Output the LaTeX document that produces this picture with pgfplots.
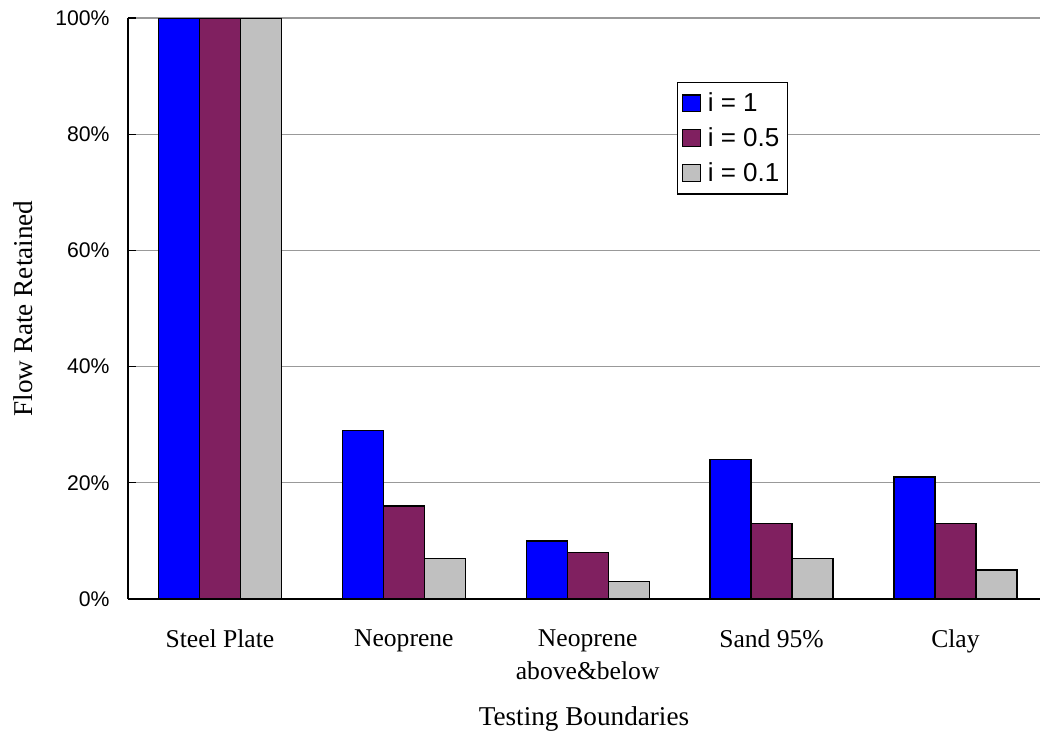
\documentclass[border=0pt]{standalone}
\usepackage{fontspec}
\setmainfont{Liberation Serif}
\newfontfamily\arial{Liberation Sans}
\usepackage{pgfplots}
\pgfplotsset{compat=1.18}

\definecolor{barblue}{RGB}{0,0,255}
\definecolor{barplum}{RGB}{128,32,96}
\definecolor{bargray}{RGB}{192,192,192}

% square legend swatches instead of the default ybar glyph
\pgfplotsset{legsq/.style={/pgfplots/legend image code/.code={%
  \draw[##1,draw=black,line width=0.6pt] (0pt,-4.2pt) rectangle (9pt,4.2pt);}}}

\begin{document}
\begin{tikzpicture}
\begin{axis}[
  name=ax,
  scale only axis,
  width=456pt, height=290.5pt,
  ybar=0pt, bar width=20.5pt,
  xmin=-0.5, xmax=4.46,
  ymin=0, ymax=100,
  axis lines=left,
  axis line style={-, black, line width=0.6pt},
  xtick={0,1,2,3,4},
  xticklabels={Steel Plate, Neoprene, Neoprene\\above\&below, Sand 95\%, Clay},
  xtick style={draw=none},
  xticklabel style={font=\fontsize{12.8}{16.8}\selectfont, align=center, anchor=north, inner sep=0pt, yshift=-15pt},
  ytick={0,20,40,60,80,100},
  yticklabels={0\%,20\%,40\%,60\%,80\%,100\%},
  yticklabel style={font=\arial\fontsize{10.6}{12}\selectfont, anchor=east, inner sep=0pt, xshift=-9pt},
  tick align=inside,
  major tick length=4pt,
  ytick style={black, line width=0.6pt},
  ymajorgrids,
  grid style={gray!80, line width=0.6pt},
  xlabel={Testing Boundaries},
  ylabel={Flow Rate Retained},
  label style={font=\fontsize{13.6}{16}\selectfont},
  xlabel style={at={(axis description cs:0.5,-0.217)}, anchor=base},
  ylabel style={at={(axis description cs:-0.115,0.5)}, anchor=center},
  legend style={at={(rel axis cs:0.602,0.89)}, anchor=north west,
    draw=black, line width=0.6pt, fill=white,
    font=\arial\fontsize{13}{15}\selectfont,
    inner xsep=2pt, inner ysep=3pt, row sep=2.5pt,
    /tikz/every odd column/.append style={column sep=1.5pt}},
  legend cell align=left,
]
\addplot[fill=barblue, draw=black, line width=0.6pt, legsq] coordinates {(0,100) (1,29) (2,10) (3,24) (4,21)};
\addplot[fill=barplum, draw=black, line width=0.6pt, legsq] coordinates {(0,100) (1,16) (2,8) (3,13) (4,13)};
\addplot[fill=bargray, draw=black, line width=0.6pt, legsq] coordinates {(0,100) (1,7) (2,3) (3,7) (4,5)};
\legend{i = 1, i = 0.5, i = 0.1}
\end{axis}
\pgfresetboundingbox
\path[use as bounding box] ([xshift=-64pt,yshift=-68.5pt]ax.south west) rectangle ([yshift=9pt]ax.north east);
\end{tikzpicture}
\end{document}
